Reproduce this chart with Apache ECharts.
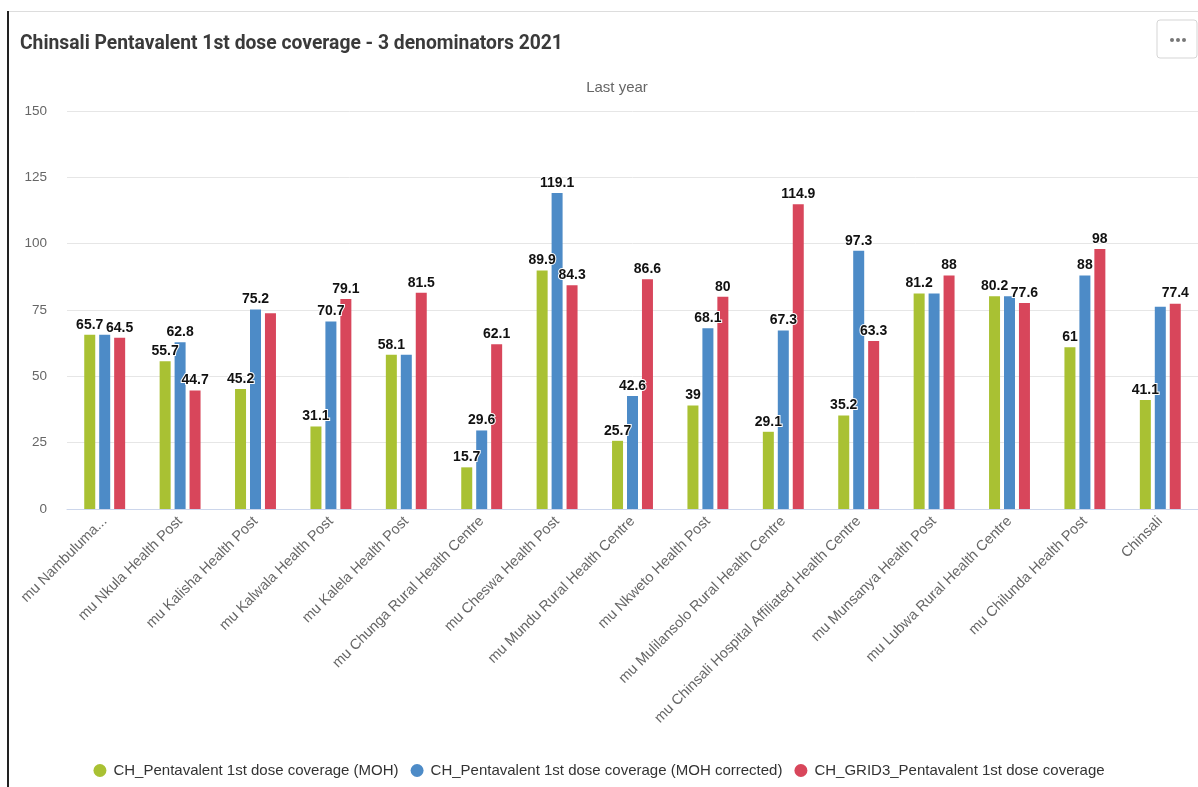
<!DOCTYPE html>
<html>
<head>
<meta charset="utf-8">
<script src="https://cdn.jsdelivr.net/npm/echarts@6/dist/echarts.min.js"></script>
<style>
html,body{margin:0;padding:0;background:#fff;}
#chart{width:1198px;height:787px;}
</style>
</head>
<body>
<div id="chart"></div>
<script>
const categories = [
  "mu Nambuluma...", "mu Nkula Health Post", "mu Kalisha Health Post", "mu Kalwala Health Post",
  "mu Kalela Health Post", "mu Chunga Rural Health Centre", "mu Cheswa Health Post",
  "mu Mundu Rural Health Centre", "mu Nkweto Health Post", "mu Mulilansolo Rural Health Centre",
  "mu Chinsali Hospital Affiliated Health Centre", "mu Munsanya Health Post",
  "mu Lubwa Rural Health Centre", "mu Chilunda Health Post", "Chinsali"
];
const seriesNames = [
  "CH_Pentavalent 1st dose coverage (MOH)",
  "CH_Pentavalent 1st dose coverage (MOH corrected)",
  "CH_GRID3_Pentavalent 1st dose coverage"
];
const mohValues       = [65.7, 55.7, 45.2, 31.1, 58.1, 15.7, 89.9, 25.7, 39, 29.1, 35.2, 81.2, 80.2, 61, 41.1];
const mohCorrected    = [65.7, 62.8, 75.2, 70.7, 58.1, 29.6, 119.1, 42.6, 68.1, 67.3, 97.3, 81.2, 80.2, 88, 76.2];
const grid3Values     = [64.5, 44.7, 73.8, 79.1, 81.5, 62.1, 84.3, 86.6, 80, 114.9, 63.3, 88, 77.6, 98, 77.4];
const yTicks = { min: 0, max: 150, interval: 25 };

const colors = ['#a9c133', '#4d8bc7', '#d8465b'];
const font = "'Liberation Sans', Arial, sans-serif";

const chart = echarts.init(document.getElementById('chart'));
const labelStyle = {
  show: true, position: 'top', distance: 3,
  fontFamily: font, fontSize: 14, fontWeight: 'bold', color: '#111',
  textBorderColor: '#fff', textBorderWidth: 2
};
function mkSeries(name, data, i) {
  return {
    name: name, type: 'bar', data: data, barWidth: 11, barGap: '36%',
    itemStyle: { color: colors[i] },
    label: labelStyle,
    labelLayout: { hideOverlap: true }
  };
}
chart.setOption({
  animation: false,
  color: colors,
  title: [
    { text: 'Chinsali Pentavalent 1st dose coverage - 3 denominators 2021', left: 15, top: 30,
      textStyle: { fontFamily: 'Roboto, sans-serif', fontSize: 19.3, fontWeight: 'bold', color: '#3a3a3a' } },
    { text: 'Last year', left: 612, top: 75, textAlign: 'center',
      textStyle: { fontFamily: font, fontSize: 15, fontWeight: 'normal', color: '#666' } }
  ],
  legend: {
    bottom: 4, left: 'center', icon: 'circle', itemWidth: 13, itemHeight: 13, itemGap: 12,
    textStyle: { fontFamily: font, fontSize: 15, color: '#333', padding: [0, 0, 0, 2] },
    data: seriesNames
  },
  grid: { left: 67, right: 0, top: 111, bottom: 278, containLabel: false },
  xAxis: {
    type: 'category', data: categories,
    axisLine: { lineStyle: { color: '#ccd6eb' } },
    axisTick: { show: false },
    axisLabel: { rotate: 45, interval: 0, margin: 10, fontFamily: font, fontSize: 14.5, color: '#666' }
  },
  yAxis: {
    type: 'value', min: yTicks.min, max: yTicks.max, interval: yTicks.interval,
    axisLine: { show: false }, axisTick: { show: false },
    axisLabel: { margin: 20, fontFamily: font, fontSize: 13.5, color: '#666' },
    splitLine: { lineStyle: { color: '#e6e6e6' } }
  },
  graphic: [
    { type: 'rect', shape: { x: 1157, y: 20, width: 40, height: 38, r: 3 },
      style: { fill: '#fff', stroke: '#d5d5d5', lineWidth: 1 } },
    { type: 'circle', shape: { cx: 1172, cy: 40, r: 2 }, style: { fill: '#777' } },
    { type: 'circle', shape: { cx: 1178, cy: 40, r: 2 }, style: { fill: '#777' } },
    { type: 'circle', shape: { cx: 1184, cy: 40, r: 2 }, style: { fill: '#777' } },
    { type: 'rect', shape: { x: 8, y: 11, width: 1190, height: 1 }, style: { fill: '#ddd' } },
    { type: 'rect', shape: { x: 7, y: 11, width: 2, height: 776 }, style: { fill: '#222' } }
  ],
  series: [
    mkSeries(seriesNames[0], mohValues, 0),
    mkSeries(seriesNames[1], mohCorrected, 1),
    mkSeries(seriesNames[2], grid3Values, 2)
  ]
});
</script>
</body>
</html>
